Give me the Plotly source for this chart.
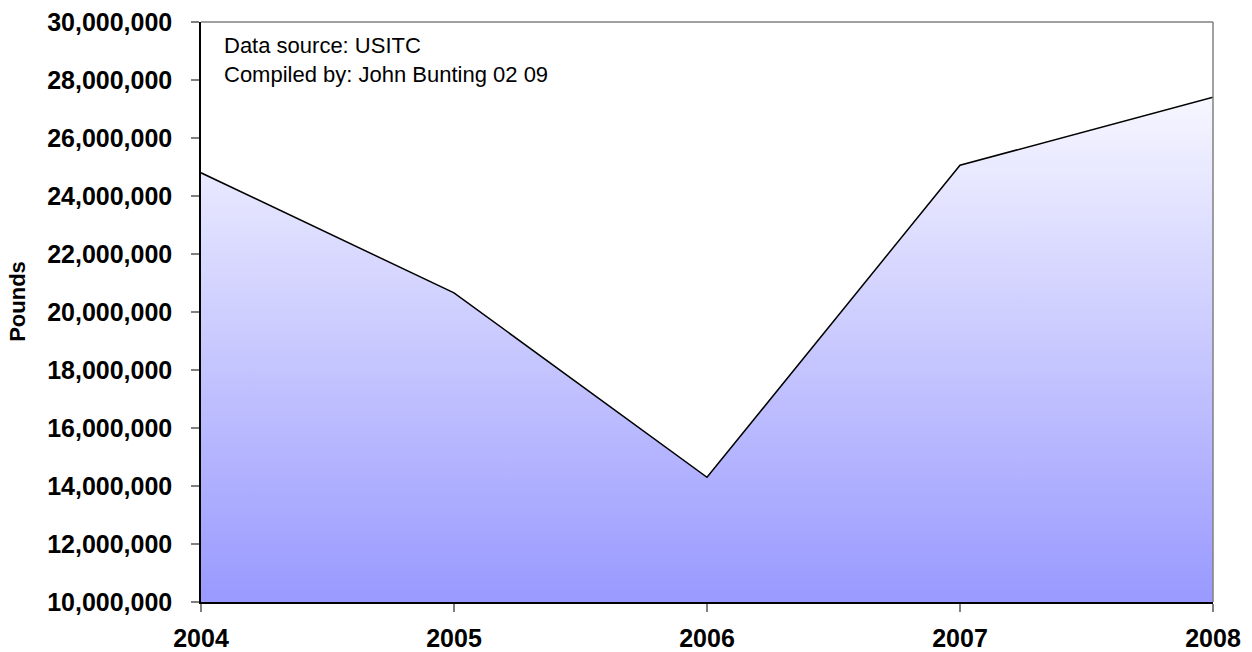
import plotly.graph_objects as go

years = ["2004", "2005", "2006", "2007", "2008"]
pounds = [24800000, 20660000, 14300000, 25060000, 27410000]

y_ticks = list(range(10000000, 30000001, 2000000))
y_labels = [f"{v:,}" for v in y_ticks]

font_family = "Liberation Sans, Arial, sans-serif"
tick_font = dict(size=25, family=font_family, color="black", weight="bold")

fig = go.Figure()
fig.add_trace(go.Scatter(
    x=years,
    y=pounds,
    mode="lines",
    line=dict(color="black", width=1.5),
    fill="tozeroy",
    fillgradient=dict(
        type="vertical",
        start=10000000,
        stop=29000000,
        colorscale=[[0, "#9999FF"], [1, "#FFFFFF"]],
    ),
    hoverinfo="x+y",
    showlegend=False,
))

fig.update_layout(
    width=1252,
    height=652,
    margin=dict(l=201, r=39, t=22, b=50),
    paper_bgcolor="white",
    plot_bgcolor="white",
    font=dict(family=font_family, color="black"),
    xaxis=dict(
        type="category",
        range=[0, 4],
        tickmode="array",
        tickvals=years,
        ticktext=years,
        automargin=False,
        showgrid=False,
        zeroline=False,
        showline=True,
        linecolor="black",
        linewidth=1.5,
        ticks="outside",
        ticklen=8,
        tickcolor="#808080",
        tickwidth=1.5,
        ticklabelstandoff=5,
        tickfont=tick_font,
    ),
    yaxis=dict(
        range=[10000000, 30000000],
        tickmode="array",
        tickvals=y_ticks,
        ticktext=y_labels,
        automargin=False,
        showgrid=False,
        zeroline=False,
        showline=True,
        linecolor="black",
        linewidth=1.5,
        ticks="outside",
        ticklen=8,
        tickcolor="#808080",
        tickwidth=1.5,
        ticklabelstandoff=14,
        tickfont=tick_font,
    ),
    shapes=[
        dict(type="line", xref="paper", yref="paper", x0=0, x1=1, y0=1, y1=1,
             line=dict(color="#808080", width=1.5)),
        dict(type="line", xref="paper", yref="paper", x0=1, x1=1, y0=0, y1=1,
             line=dict(color="#808080", width=1.5)),
    ],
    annotations=[
        dict(
            xref="paper", yref="paper", x=0.021, y=0.985,
            xanchor="left", yanchor="top", align="left",
            text="Data source: USITC<br>Compiled by: John Bunting 02 09",
            showarrow=False,
            font=dict(size=22, family=font_family, color="black"),
        ),
        dict(
            xref="paper", yref="paper", x=-0.181, y=0.519,
            xanchor="center", yanchor="middle",
            text="Pounds", textangle=-90, showarrow=False,
            font=dict(size=22, family=font_family, color="black", weight="bold"),
        ),
    ],
)

fig.write_html("out.html")
